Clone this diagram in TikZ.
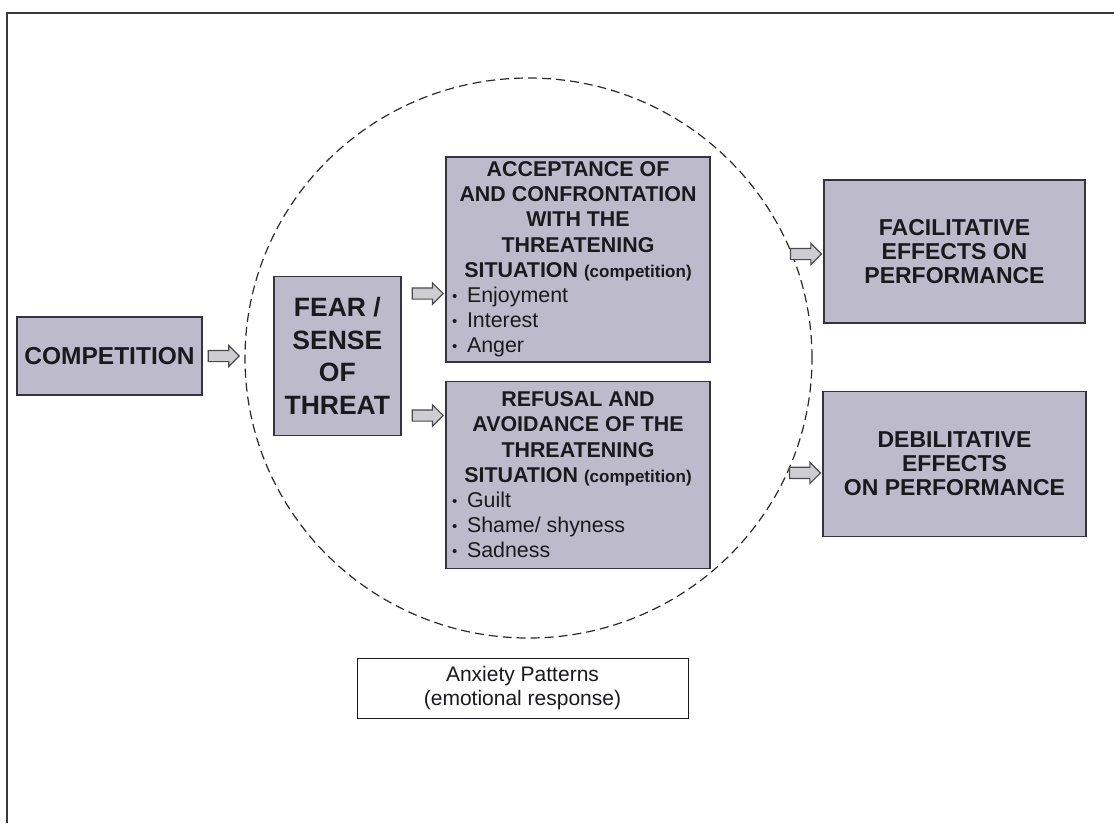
\documentclass[tikz,border=0pt]{standalone}
\usepackage{fontspec}
\setmainfont{Liberation Sans}
\usepackage{xcolor}
\usepackage{tikz}
\usetikzlibrary{shapes.geometric,shapes.arrows,positioning,calc}
\definecolor{boxfill}{HTML}{BDBBCB}
\definecolor{boxline}{HTML}{34343C}
\definecolor{ink}{HTML}{1A1A1E}
\definecolor{flowfill}{HTML}{CDCDD2}
\definecolor{flowline}{HTML}{4A4A50}
\definecolor{ringline}{HTML}{2A2A2A}
\definecolor{framecol}{HTML}{3A3A3A}
\newcommand{\setfs}[2]{\fontsize{#1}{#2}\selectfont}
\newcommand{\itemdot}{\makebox[15pt][l]{\raisebox{1pt}{\setfs{15}{15}\textbullet}}}

\begin{document}
\begin{tikzpicture}[x=1pt,y=-1pt,
    stage/.style={rectangle, draw=boxline, fill=boxfill, text=ink,
                  line width=1.4pt, inner sep=4pt, align=center},
    listbox/.style={stage, minimum width=264pt, text width=252pt,
                    inner xsep=6pt, inner ysep=3pt, align=none,
                    font=\bfseries\setfs{21.4}{25.2}},
    flow/.style={single arrow, draw=flowline, fill=flowfill, line width=1.2pt,
                 minimum height=31pt, minimum width=0pt, inner sep=5pt,
                 single arrow head extend=5pt},
    note/.style={rectangle, draw=ink, fill=white, text=ink, line width=0.8pt,
                 align=center, font=\setfs{21}{24}},
]
\useasboundingbox (0,0) rectangle (1114,823);
\draw[framecol, line width=2pt] (7,823) -- (7,13) -- (1114,13);

\node[ellipse, draw=ringline, line width=1.2pt, dash pattern=on 9pt off 5pt,
      minimum width=567pt, minimum height=560pt, inner sep=0pt] (ring) at (528.5,358) {};

\node[stage, minimum width=185pt, minimum height=78pt,
      font=\bfseries\setfs{24.5}{28}] (comp) at (109.5,356) {COMPETITION};
\node[flow, right=5pt of comp] (a1) {};
\node[stage, right=33pt of a1, minimum width=127pt, minimum height=159pt,
      font=\bfseries\setfs{26.5}{32.5}] (fear) {FEAR /\\SENSE\\OF\\THREAT};

\node[listbox, minimum height=205pt] (accept) at (578,259.5)
  {{\centering ACCEPTANCE OF\\AND CONFRONTATION\\WITH THE\\THREATENING\\
   SITUATION {\setfs{17}{25.2}(competition)}\par}
   \raggedright\mdseries\itemdot Enjoyment\\\itemdot Interest\\\itemdot Anger};
\node[listbox, below=18pt of accept, minimum height=187pt] (refuse)
  {{\centering REFUSAL AND\\AVOIDANCE OF THE\\THREATENING\\
   SITUATION {\setfs{17}{25.2}(competition)}\par}
   \raggedright\mdseries\itemdot Guilt\\\itemdot Shame/ shyness\\\itemdot Sadness};
\node[flow, right=10pt of fear.east, yshift=62.5pt] (a2) {};
\node[flow, right=10pt of fear.east, yshift=-59.5pt] (a3) {};

\node[stage, minimum width=261pt, minimum height=143pt,
      font=\bfseries\setfs{23}{24}] (facil) at (954.5,251.5)
  {FACILITATIVE\\EFFECTS ON\\PERFORMANCE};
\node[stage, below=67pt of facil, minimum width=263pt, minimum height=145pt,
      font=\bfseries\setfs{23}{24}] (debil)
  {DEBILITATIVE\\EFFECTS\\ON PERFORMANCE};
\node[flow, left=1pt of facil, yshift=-2.5pt] (a4) {};
\node[flow, left=1pt of debil, yshift=-9pt] (a5) {};

\node[note, minimum width=331pt, minimum height=60pt] (anx) at (522.5,688)
  {Anxiety Patterns\\(emotional response)};

\end{tikzpicture}
\end{document}
